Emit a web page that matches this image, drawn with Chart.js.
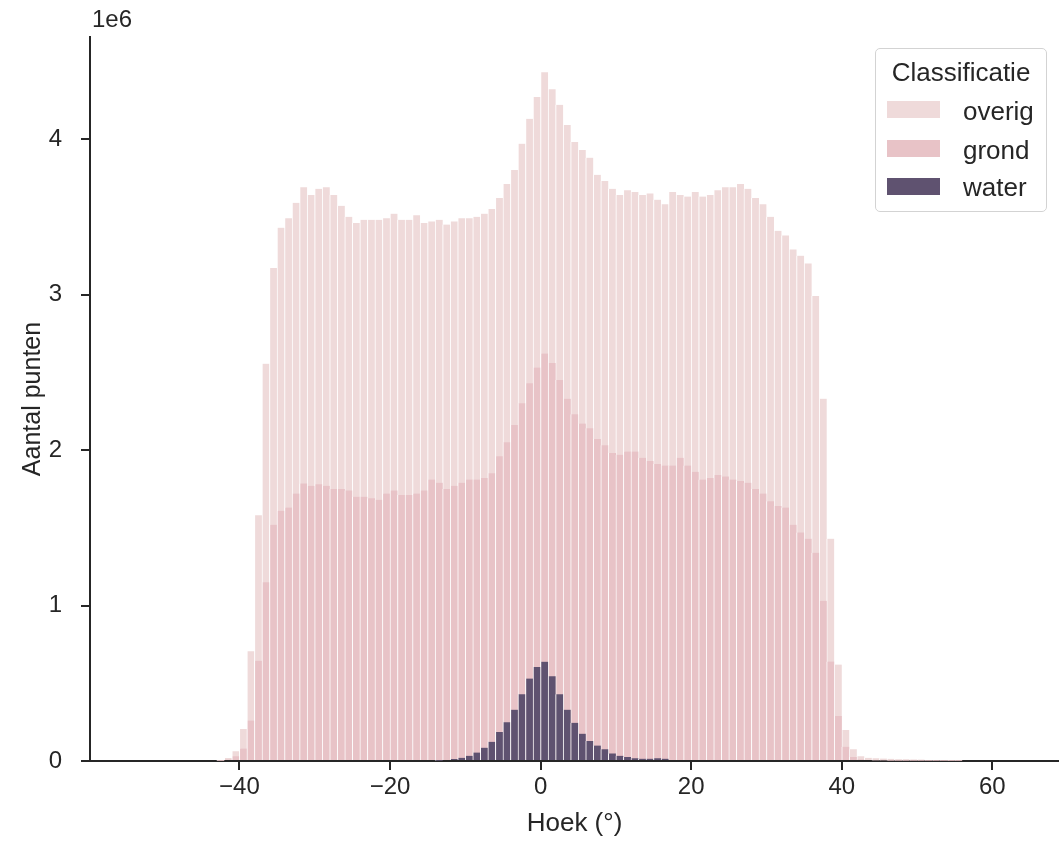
<!DOCTYPE html>
<html>
<head>
<meta charset="utf-8">
<script src="https://cdn.jsdelivr.net/npm/chart.js@4.4.1/dist/chart.umd.min.js"></script>
<style>
  html, body { margin: 0; padding: 0; background: #fff; }
  #wrap { position: relative; width: 1059px; height: 843px; font-family: "Liberation Sans", Arial, sans-serif; color: #262626; }
  #offset { position: absolute; left: 92px; top: 5px; font-size: 24px; line-height: 28px; }
  #legend { position: absolute; left: 875px; top: 48px; width: 172px; height: 164px; box-sizing: border-box;
            border: 1.5px solid #d3d3d3; border-radius: 5px; background: rgba(255,255,255,0.8); }
  .lg-title { position: absolute; left: 875px; width: 172px; top: 57px; text-align: center; font-size: 26px; line-height: 30px; }
  .sw { position: absolute; left: 887px; width: 53px; height: 17px; }
  .lb { position: absolute; left: 963px; font-size: 26px; line-height: 30px; }
</style>
</head>
<body>
<div id="wrap">
  <canvas id="chart" width="1059" height="843"></canvas>
  <div id="offset">1e6</div>
  <div id="legend"></div>
  <div class="lg-title">Classificatie</div>
  <div class="sw" style="top:101px;background:#efdada"></div>
  <div class="lb" style="top:96px">overig</div>
  <div class="sw" style="top:140px;background:#e8c3c7"></div>
  <div class="lb" style="top:135px">grond</div>
  <div class="sw" style="top:178px;background:#5f5270"></div>
  <div class="lb" style="top:172px">water</div>
</div>
<script>
// histogram bins: 1 degree wide, first bin starts at -43
const binStart = -43;

// counts per bin, in millions (axis shows 1e6)
const overig = [
  0.004, 0.02, 0.063, 0.205, 0.705, 1.58, 2.555, 3.17, 3.43, 3.49,
  3.59, 3.69, 3.64, 3.68, 3.69, 3.64, 3.57, 3.50, 3.46, 3.48,
  3.48, 3.48, 3.49, 3.52, 3.48, 3.48, 3.51, 3.46, 3.47, 3.48,
  3.45, 3.47, 3.49, 3.49, 3.50, 3.52, 3.55, 3.62, 3.71, 3.80,
  3.97, 4.13, 4.27, 4.43, 4.32, 4.22, 4.09, 3.98, 3.93, 3.88,
  3.77, 3.73, 3.68, 3.64, 3.67, 3.66, 3.64, 3.65, 3.61, 3.58,
  3.66, 3.64, 3.63, 3.66, 3.63, 3.64, 3.67, 3.69, 3.69, 3.71,
  3.68, 3.62, 3.58, 3.50, 3.41, 3.38, 3.29, 3.25, 3.20, 2.99,
  2.33, 1.43, 0.62, 0.20, 0.075, 0.03, 0.021, 0.018, 0.016, 0.014,
  0.012, 0.011, 0.010, 0.009, 0.007, 0.006, 0.005, 0.004, 0.003
];

const grond = [
  0.002, 0.009, 0.03, 0.08, 0.26, 0.645, 1.15, 1.52, 1.61, 1.63,
  1.72, 1.785, 1.77, 1.78, 1.77, 1.75, 1.75, 1.74, 1.70, 1.70,
  1.69, 1.68, 1.72, 1.74, 1.71, 1.71, 1.72, 1.74, 1.81, 1.79,
  1.75, 1.77, 1.79, 1.81, 1.81, 1.82, 1.85, 1.96, 2.05, 2.16,
  2.30, 2.43, 2.53, 2.62, 2.56, 2.45, 2.33, 2.23, 2.17, 2.14,
  2.07, 2.03, 1.98, 1.97, 1.99, 1.99, 1.95, 1.93, 1.91, 1.90,
  1.90, 1.95, 1.90, 1.86, 1.81, 1.82, 1.84, 1.83, 1.81, 1.80,
  1.79, 1.75, 1.72, 1.67, 1.64, 1.63, 1.52, 1.47, 1.43, 1.34,
  1.03, 0.64, 0.29, 0.092, 0.026, 0.01, 0.006, 0.004, 0.003, 0.002,
  0.001, 0.001, 0.001, 0.001, 0.001, 0.001, 0.001, 0.001, 0.001
];

const water = [
  0, 0, 0, 0, 0, 0, 0, 0, 0, 0,
  0, 0, 0, 0, 0, 0, 0, 0, 0, 0,
  0, 0, 0, 0, 0, 0, 0, 0, 0, 0.002,
  0.006, 0.013, 0.021, 0.034, 0.054, 0.086, 0.124, 0.186, 0.25, 0.33,
  0.43, 0.53, 0.604, 0.639, 0.545, 0.43, 0.33, 0.246, 0.176, 0.129,
  0.099, 0.075, 0.049, 0.034, 0.026, 0.017, 0.015, 0.015, 0.017, 0.015,
  0, 0, 0, 0, 0, 0, 0, 0, 0, 0,
  0, 0, 0, 0, 0, 0, 0, 0, 0, 0,
  0, 0, 0, 0, 0, 0, 0, 0, 0, 0,
  0, 0, 0, 0, 0, 0, 0, 0, 0
];

const xTicks = [-40, -20, 0, 20, 40, 60];
const yTicks = [0, 1, 2, 3, 4];

const font = '"Liberation Sans", Arial, sans-serif';
const ink = '#262626';

function toPoints(vals) {
  return vals.map((v, i) => ({ x: binStart + i + 0.5, y: v }));
}

const barStyle = {
  borderColor: 'rgba(255,255,255,0.8)',
  borderWidth: { left: 1, right: 0, top: 0, bottom: 0 },
  barPercentage: 1,
  categoryPercentage: 1,
  grouped: false
};

const axisGrid = { display: true, offset: false, drawOnChartArea: false, drawTicks: true, tickLength: 9, color: ink, lineWidth: 2 };
const axisBorder = { display: true, color: ink, width: 2 };

new Chart(document.getElementById('chart'), {
  type: 'bar',
  data: {
    datasets: [
      { label: 'overig', data: toPoints(overig), backgroundColor: '#efdada', order: 3, ...barStyle },
      { label: 'grond', data: toPoints(grond), backgroundColor: '#e8c3c7', order: 2, ...barStyle },
      { label: 'water', data: toPoints(water), backgroundColor: '#5f5270', order: 1, ...barStyle }
    ]
  },
  options: {
    responsive: false,
    animation: false,
    devicePixelRatio: 1,
    layout: { padding: { top: 37, right: 0, left: 0, bottom: 0 } },
    plugins: {
      legend: { display: false },
      tooltip: { enabled: false }
    },
    scales: {
      x: {
        type: 'linear',
        offset: false,
        min: -59.84,
        max: 68.85,
        afterBuildTicks: s => { s.ticks = xTicks.map(v => ({ value: v })); },
        afterFit: s => { s.height = 82; },
        grid: axisGrid,
        border: axisBorder,
        ticks: {
          font: { size: 24, family: font },
          color: ink,
          padding: 3,
          maxRotation: 0,
          callback: v => (v < 0 ? '\u2212' + Math.abs(v) : String(v))
        },
        title: { display: true, text: 'Hoek (°)', color: ink, font: { size: 26, family: font }, padding: { top: 0, bottom: 4 } }
      },
      y: {
        min: 0,
        max: 4.656,
        afterBuildTicks: s => { s.ticks = yTicks.map(v => ({ value: v })); },
        afterFit: s => { s.width = 90; },
        grid: axisGrid,
        border: axisBorder,
        ticks: { font: { size: 24, family: font }, color: ink, padding: 19 },
        title: { display: true, text: 'Aantal punten', color: ink, font: { size: 25, family: font }, padding: { top: 18, bottom: 0 } }
      }
    }
  }
});
</script>
</body>
</html>
